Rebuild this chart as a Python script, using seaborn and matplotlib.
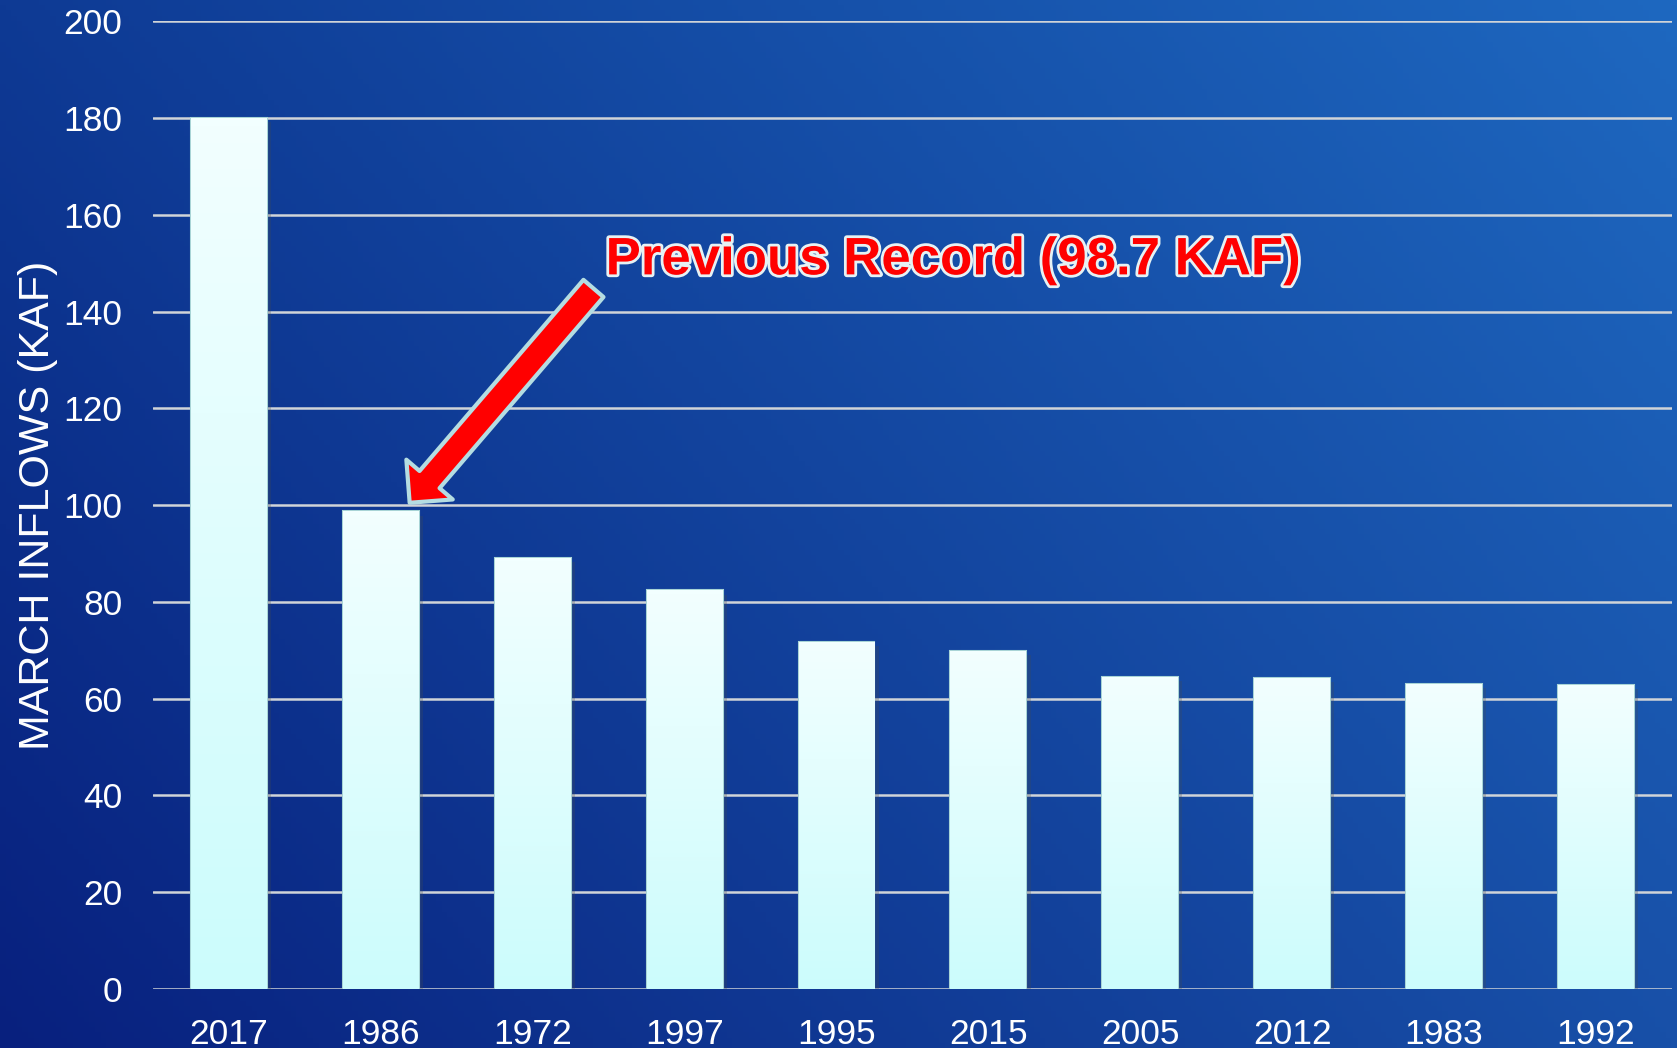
import numpy as np
import pandas as pd
import matplotlib
matplotlib.use("Agg")
import matplotlib.pyplot as plt
import matplotlib.patheffects as pe
from matplotlib.colors import to_rgb
import seaborn as sns

# data
years = ['2017', '1986', '1972', '1997', '1995', '2015', '2005', '2012', '1983', '1992']
inflows = [180.1, 98.7, 89.1, 82.4, 71.8, 69.8, 64.5, 64.3, 63.0, 62.8]
y_ticks = [0, 20, 40, 60, 80, 100, 120, 140, 160, 180, 200]
note_text = 'Previous Record (98.7 KAF)'

df = pd.DataFrame({'year': years, 'inflow': inflows})

sns.set_theme(style='white')
plt.rcParams['font.family'] = ['Liberation Sans', 'DejaVu Sans']

fig = plt.figure(figsize=(16.77, 10.48), dpi=100)

# blue gradient background (dark bottom-left -> lighter top-right)
bg = fig.add_axes([0, 0, 1, 1], zorder=0)
tl, tr = np.array(to_rgb('#0e3a94')), np.array(to_rgb('#1e68c0'))
bl, br = np.array(to_rgb('#08207e')), np.array(to_rgb('#1850a8'))
u = np.linspace(0, 1, 300)[None, :, None]
v = np.linspace(0, 1, 200)[:, None, None]
top = tl * (1 - u) + tr * u
bot = bl * (1 - u) + br * u
grad = top * (1 - v) + bot * v
bg.imshow(grad, aspect='auto', extent=[0, 1, 0, 1], origin='upper')
bg.set_axis_off()

ax = fig.add_axes([0.0912, 0.0563, 0.9058, 0.9233], zorder=1)
ax.set_facecolor('none')

sns.barplot(data=df, x='year', y='inflow', order=years, color='#e8ffff',
            width=0.5, edgecolor='#a8d4d6', linewidth=1.5, ax=ax, zorder=3)

# vertical gradient fill inside each bar
bar_grad = np.linspace(0, 1, 100)[:, None, None]
c_top, c_bot = np.array(to_rgb('#f2ffff')), np.array(to_rgb('#ccfcfc'))
bar_img = c_top * (1 - bar_grad) + c_bot * bar_grad
for p in ax.patches:
    p.set_path_effects([pe.SimplePatchShadow(offset=(3, -3), alpha=0.25), pe.Normal()])
    x0, w, h = p.get_x(), p.get_width(), p.get_height()
    im = ax.imshow(bar_img, extent=[x0, x0 + w, 0, h], aspect='auto', zorder=3.5)
    im.set_clip_path(p)

ax.set_xlim(-0.5, len(years) - 0.5)
ax.set_ylim(0, 200)
ax.set_yticks(y_ticks)
ax.yaxis.grid(True, color='#d0d4d8', linewidth=1.8, zorder=1)
ax.set_axisbelow(True)
for s in ax.spines.values():
    s.set_visible(False)
ax.tick_params(axis='y', length=0, pad=22, labelsize=25.5, labelcolor='white')
ax.tick_params(axis='x', length=0, pad=21, labelsize=25.5, labelcolor='white')
ax.set_xlabel('')
ax.set_ylabel('MARCH INFLOWS (KAF)', color='white', fontsize=31, labelpad=4)

# callout arrow and label
ax.annotate('', xy=(1.19, 100.5), xytext=(2.40, 144.8),
            arrowprops=dict(arrowstyle='simple,head_length=1.1,head_width=2.2,tail_width=0.95',
                            mutation_scale=20, fc='#ff0000', ec='#b4dde2', lw=3,
                            shrinkA=0, shrinkB=0), zorder=5)
ax.text(2.48, 150.6, note_text, color='#ff0000', fontsize=38, fontweight='bold',
        ha='left', va='center', zorder=6,
        path_effects=[pe.withStroke(linewidth=4, foreground='#e6f2f4')])

fig.savefig('out.png', dpi=100)
